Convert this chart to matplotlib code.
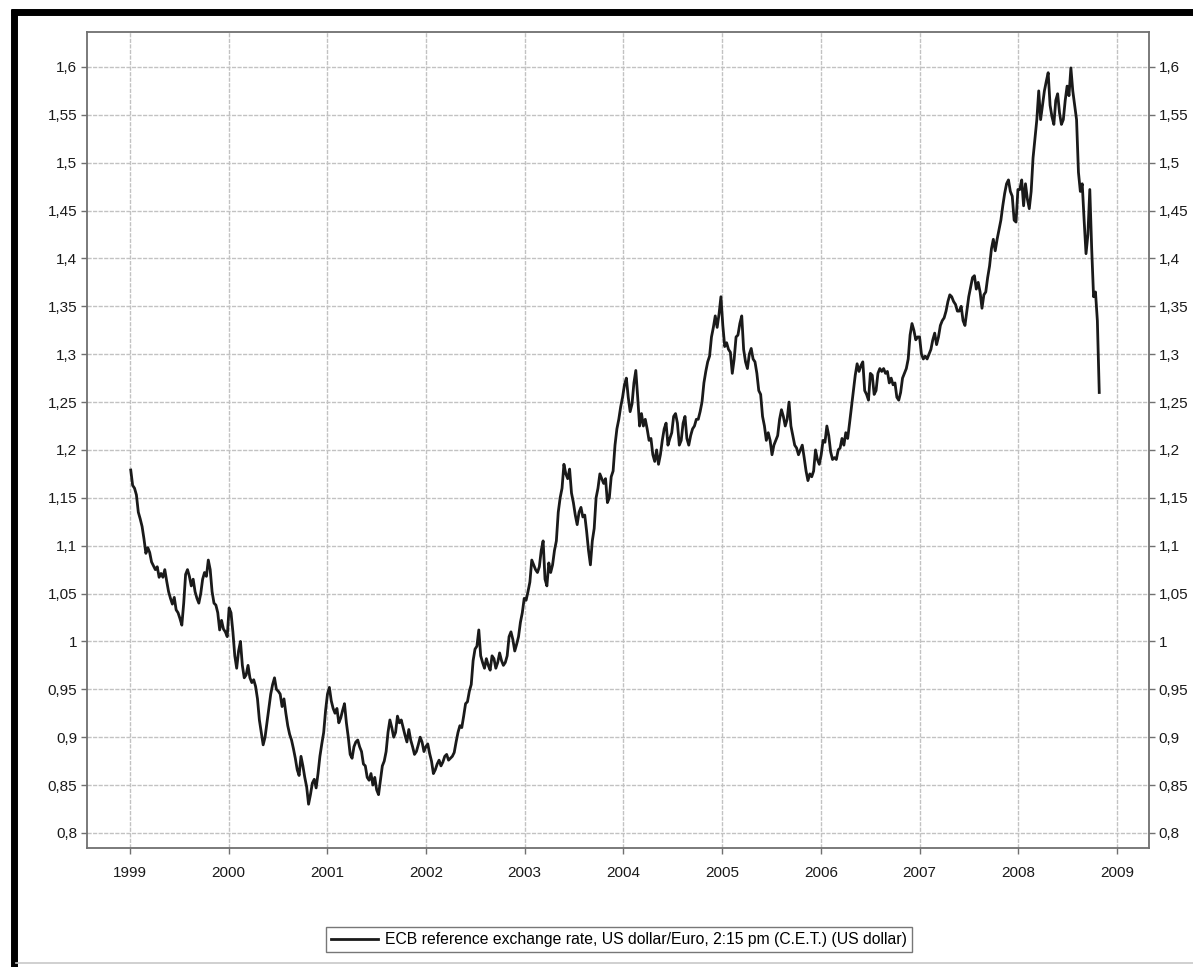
import numpy as np
import pandas as pd
import matplotlib
matplotlib.use("Agg")
import matplotlib.pyplot as plt
import matplotlib.dates as mdates
from matplotlib.ticker import FuncFormatter, MultipleLocator
from matplotlib.lines import Line2D

plt.rcParams['font.family'] = ['Liberation Sans', 'DejaVu Sans']

# weekly ECB reference rate (US dollar per euro), Mondays from 1999-01-04
rate_1999 = [1.179, 1.163, 1.160, 1.153, 1.135, 1.128, 1.120, 1.107, 1.092, 1.098, 1.093, 1.083, 1.079,
             1.075, 1.078, 1.067, 1.071, 1.067, 1.075, 1.063, 1.052, 1.045, 1.039, 1.046, 1.033, 1.030,
             1.024, 1.017, 1.040, 1.070, 1.075, 1.068, 1.058, 1.065, 1.052, 1.045, 1.040, 1.050, 1.065,
             1.072, 1.068, 1.085, 1.075, 1.052, 1.040, 1.038, 1.030, 1.012, 1.022, 1.013, 1.010, 1.005]
rate_2000 = [1.035, 1.030, 1.010, 0.985, 0.972, 0.990, 1.000, 0.975, 0.962, 0.965, 0.975, 0.962, 0.957,
             0.960, 0.953, 0.940, 0.918, 0.905, 0.892, 0.900, 0.915, 0.930, 0.945, 0.955, 0.962, 0.950,
             0.948, 0.945, 0.932, 0.940, 0.925, 0.912, 0.903, 0.897, 0.888, 0.878, 0.866, 0.860, 0.880,
             0.870, 0.858, 0.848, 0.830, 0.840, 0.852, 0.856, 0.847, 0.862, 0.880, 0.893, 0.905, 0.928]
rate_2001 = [0.945, 0.952, 0.938, 0.930, 0.925, 0.930, 0.915, 0.920, 0.928, 0.935, 0.915, 0.900, 0.882,
             0.878, 0.890, 0.895, 0.897, 0.890, 0.885, 0.872, 0.870, 0.858, 0.855, 0.862, 0.850, 0.858,
             0.845, 0.840, 0.855, 0.870, 0.875, 0.885, 0.905, 0.918, 0.910, 0.900, 0.905, 0.922, 0.915,
             0.918, 0.910, 0.902, 0.895, 0.908, 0.897, 0.890, 0.882, 0.885, 0.892, 0.900, 0.895, 0.885,
             0.890]
rate_2002 = [0.893, 0.883, 0.875, 0.862, 0.866, 0.872, 0.876, 0.870, 0.874, 0.880, 0.882, 0.876, 0.878,
             0.880, 0.884, 0.895, 0.905, 0.912, 0.910, 0.922, 0.935, 0.937, 0.948, 0.955, 0.980, 0.992,
             0.995, 1.012, 0.985, 0.978, 0.972, 0.982, 0.975, 0.970, 0.985, 0.982, 0.972, 0.978, 0.988,
             0.980, 0.975, 0.978, 0.985, 1.005, 1.010, 1.002, 0.990, 0.997, 1.005, 1.020, 1.030, 1.045]
rate_2003 = [1.043, 1.052, 1.062, 1.085, 1.080, 1.075, 1.072, 1.078, 1.095, 1.105, 1.065, 1.058, 1.082,
             1.072, 1.080, 1.095, 1.105, 1.135, 1.150, 1.160, 1.185, 1.175, 1.170, 1.180, 1.155, 1.145,
             1.132, 1.122, 1.135, 1.140, 1.130, 1.132, 1.115, 1.095, 1.080, 1.105, 1.118, 1.150, 1.160,
             1.175, 1.170, 1.165, 1.170, 1.145, 1.150, 1.172, 1.178, 1.205, 1.222, 1.232, 1.245, 1.255]
rate_2004 = [1.268, 1.275, 1.255, 1.240, 1.248, 1.270, 1.283, 1.255, 1.225, 1.238, 1.225, 1.232, 1.222,
             1.210, 1.212, 1.195, 1.188, 1.200, 1.185, 1.195, 1.210, 1.222, 1.228, 1.205, 1.212, 1.218,
             1.235, 1.238, 1.228, 1.205, 1.210, 1.228, 1.235, 1.212, 1.205, 1.215, 1.222, 1.225, 1.232,
             1.232, 1.240, 1.250, 1.270, 1.282, 1.292, 1.298, 1.318, 1.328, 1.340, 1.328, 1.342, 1.360]
rate_2005 = [1.330, 1.308, 1.312, 1.305, 1.302, 1.280, 1.295, 1.318, 1.320, 1.332, 1.340, 1.305, 1.292,
             1.285, 1.300, 1.306, 1.295, 1.292, 1.280, 1.262, 1.258, 1.235, 1.225, 1.210, 1.218, 1.210,
             1.195, 1.205, 1.210, 1.215, 1.232, 1.242, 1.235, 1.225, 1.232, 1.250, 1.225, 1.215, 1.205,
             1.202, 1.195, 1.200, 1.205, 1.192, 1.178, 1.168, 1.175, 1.172, 1.178, 1.200, 1.190, 1.185]
rate_2006 = [1.195, 1.210, 1.208, 1.225, 1.215, 1.198, 1.190, 1.192, 1.190, 1.200, 1.202, 1.212, 1.205,
             1.218, 1.212, 1.228, 1.245, 1.262, 1.278, 1.290, 1.282, 1.288, 1.292, 1.262, 1.258, 1.252,
             1.280, 1.278, 1.258, 1.262, 1.280, 1.285, 1.282, 1.285, 1.280, 1.282, 1.270, 1.275, 1.268,
             1.270, 1.255, 1.252, 1.260, 1.275, 1.280, 1.285, 1.295, 1.320, 1.332, 1.325, 1.315, 1.318]
rate_2007 = [1.318, 1.300, 1.295, 1.298, 1.295, 1.300, 1.305, 1.315, 1.322, 1.310, 1.318, 1.330, 1.335,
             1.338, 1.345, 1.355, 1.362, 1.360, 1.355, 1.352, 1.345, 1.345, 1.350, 1.335, 1.330, 1.345,
             1.360, 1.370, 1.380, 1.382, 1.368, 1.375, 1.365, 1.348, 1.362, 1.365, 1.380, 1.392, 1.410,
             1.420, 1.408, 1.420, 1.430, 1.440, 1.455, 1.468, 1.478, 1.482, 1.470, 1.465, 1.440, 1.438,
             1.472]
rate_2008 = [1.472, 1.482, 1.455, 1.478, 1.462, 1.452, 1.470, 1.505, 1.525, 1.545, 1.575, 1.545, 1.560,
             1.575, 1.585, 1.594, 1.560, 1.548, 1.540, 1.565, 1.572, 1.552, 1.540, 1.545, 1.565, 1.580,
             1.570, 1.599, 1.575, 1.560, 1.545, 1.490, 1.470, 1.478, 1.440, 1.405, 1.425, 1.472, 1.410,
             1.360, 1.365, 1.335, 1.260]

rate = np.array(rate_1999 + rate_2000 + rate_2001 + rate_2002 + rate_2003 +
                rate_2004 + rate_2005 + rate_2006 + rate_2007 + rate_2008)
dates = pd.date_range('1999-01-04', periods=len(rate), freq='7D')

legend_label = "ECB reference exchange rate, US dollar/Euro, 2:15 pm (C.E.T.) (US dollar)"

fig = plt.figure(figsize=(11.93, 9.67), dpi=100)
ax = fig.add_axes([0.0729, 0.1231, 0.8902, 0.8438])

ax.plot(dates, rate, color='#1a1a1a', lw=2.0, label=legend_label)

ax.set_xlim(pd.Timestamp('1998-07-26'), pd.Timestamp('2009-04-29'))
ax.set_ylim(0.7843, 1.6365)

ax.xaxis.set_major_locator(mdates.YearLocator())
ax.xaxis.set_major_formatter(mdates.DateFormatter('%Y'))
ax.yaxis.set_major_locator(MultipleLocator(0.05))
ax.yaxis.set_major_formatter(FuncFormatter(lambda v, p: ('%g' % round(v, 2)).replace('.', ',')))

ax.grid(True, color='#c2c2c2', lw=1.0, ls=(0, (3, 1)))
ax.set_axisbelow(True)
for s in ax.spines.values():
    s.set_color('#707070')
    s.set_linewidth(1.3)

ax.tick_params(axis='y', left=True, right=True, labelleft=True, labelright=True,
               length=4, width=1, color='#707070', labelsize=11, labelcolor='#1a1a1a', pad=3)
ax.tick_params(axis='x', length=4, width=1, color='#707070', labelsize=11,
               labelcolor='#1a1a1a', pad=9)

fig.legend(loc='center', bbox_to_anchor=(619 / 1193, 1 - 939.5 / 967), fontsize=11.3,
           frameon=True, fancybox=False, edgecolor='#555555', handlelength=3.0,
           handletextpad=0.4, borderpad=0.35)

# scanned page frame
fig.add_artist(Line2D([11 / 1193, 1.0], [1 - 12 / 967, 1 - 12 / 967], color='black', lw=5,
                      solid_capstyle='butt'))
fig.add_artist(Line2D([13.5 / 1193, 13.5 / 1193], [0.0, 1 - 9 / 967], color='black', lw=5,
                      solid_capstyle='butt'))
fig.add_artist(Line2D([16 / 1193, 1.0], [1 - 963 / 967, 1 - 963 / 967], color='#c8c8c8', lw=1.2))

fig.savefig('out.png', dpi=100)
